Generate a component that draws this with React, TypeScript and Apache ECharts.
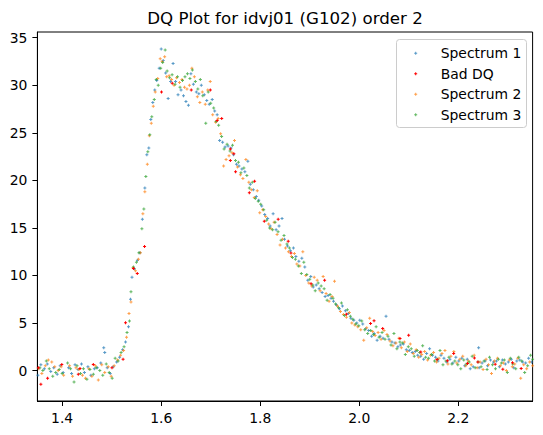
import React, { useEffect, useRef } from "react";
import * as echarts from "echarts";

const TITLE = "DQ Plot for idvj01 (G102) order 2";
const SERIES_NAMES = ["Spectrum 1", "Bad DQ", "Spectrum 2", "Spectrum 3"];
const COLORS = ["#1f77b4", "#ff0000", "#ff7f0e", "#2ca02c"];
const X_TICKS = [1.4, 1.6, 1.8, 2.0, 2.2];
const Y_TICKS = [0, 5, 10, 15, 20, 25, 30, 35];
const X_RANGE = [1.35, 2.35];
const Y_RANGE = [-3.2, 35.6];

const spectrum1 = [
  [1.351,-0.5],[1.357,0.6],[1.364,0.2],[1.370,0.7],[1.377,-0.1],[1.383,0.3],[1.390,-0.4],[1.396,0.5],[1.402,-0.2],
  [1.413,0.3],[1.419,-0.3],[1.426,0.6],[1.432,0.1],[1.439,0.7],[1.445,-0.2],[1.452,0.4],[1.458,-0.5],[1.465,0.2],[1.471,0.3],[1.478,0.8],[1.484,2.4],[1.486,1.9],[1.491,0.3],[1.497,-0.3],
  [1.503,0.4],[1.510,0.9],[1.516,1.4],[1.522,2.2],[1.528,3.0],[1.534,4.6],[1.538,7.5],[1.541,9.8],[1.546,10.7],[1.552,11.6],[1.557,12.4],[1.562,15.9],[1.567,19.2],[1.571,22.7],[1.575,23.4],[1.579,26.4],[1.583,28.2],[1.587,29.5],[1.591,30.5],[1.596,31.8],[1.600,33.8],[1.604,32.6],[1.609,31.3],[1.614,28.6],[1.619,30.4],[1.624,32.3],[1.629,30.4],[1.634,29.0],[1.640,29.5],[1.645,28.9],[1.650,28.3],[1.655,27.9],[1.660,31.2],[1.665,30.1],[1.671,29.3],[1.676,29.1],[1.681,30.0],[1.687,29.0],[1.692,28.4],[1.697,28.0],[1.703,28.5],[1.708,27.3],[1.713,26.9],[1.718,24.2],[1.724,24.0],[1.729,23.5],[1.735,23.6],[1.741,23.4],[1.746,22.7],[1.752,21.7],[1.757,21.5],[1.763,21.2],[1.769,20.9],[1.775,22.0],[1.780,19.6],[1.786,19.0],[1.792,18.3],[1.797,17.9],[1.803,17.3],[1.809,16.4],[1.815,16.0],[1.820,15.2],[1.826,16.5],[1.832,14.8],[1.838,15.2],[1.844,16.0],[1.849,13.8],[1.855,13.1],[1.861,12.6],[1.867,12.9],[1.872,12.0],[1.878,11.5],[1.884,11.8],[1.890,10.9],[1.896,9.5],[1.902,9.9],[1.907,8.8],[1.913,9.0],[1.919,8.6],[1.925,8.2],[1.931,7.8],[1.937,7.9],[1.943,7.6],[1.948,7.3],[1.954,6.9],[1.960,6.5],[1.966,6.8],[1.972,6.3],[1.978,6.0],[1.983,5.5],[1.989,5.3],[1.995,5.0],[2.001,5.3],[2.007,4.9],[2.013,4.4],[2.019,4.2],[2.025,3.6],[2.030,3.9],[2.036,3.2],[2.042,3.6],[2.048,3.4],[2.054,5.7],[2.060,3.3],[2.066,3.0],[2.072,2.9],[2.078,2.5],[2.083,2.7],[2.089,2.8],[2.095,2.2],[2.101,2.1],[2.107,1.9],[2.113,2.0],[2.118,1.6],[2.124,1.5],[2.130,1.2],[2.136,1.8],[2.142,2.3],[2.148,1.6],[2.154,1.4],[2.159,1.0],[2.165,1.6],[2.171,1.3],[2.177,0.9],[2.183,1.2],[2.189,0.8],[2.195,1.4],[2.201,1.0],[2.207,1.3],[2.213,0.5],[2.218,1.2],[2.224,0.2],[2.230,0.4],[2.241,2.4],[2.242,0.3],[2.248,0.8],[2.254,1.0],[2.259,0.5],[2.265,1.1],[2.271,0.9],[2.277,1.0],[2.283,0.4],[2.289,1.1],[2.295,0.7],[2.301,0.9],[2.307,1.2],[2.312,0.3],[2.318,1.0],[2.324,1.1],[2.330,0.9],[2.336,0.8],[2.342,1.3],[2.348,0.9],
];

const badDQ = [
  [1.352,0.3],[1.357,-1.45],[1.3706,-0.82],[1.3993,0.65],[1.4326,-0.4],[1.436,0.23],[1.4629,0.65],[1.5006,0.3],[1.523,1.18],[1.528,5.03],[1.544,10.74],[1.5517,10.2],[1.5664,13.05],
  [1.6006,29.3],[1.6223,30.2],[1.6607,29.5],[1.6992,29.5],[1.713,26.3],[1.7222,26.5],[1.7397,22.1],[1.7397,23.3],[1.7467,22.8],[1.7502,20.9],[1.778,18.7],[1.7886,19.9],[1.8082,15.7],[1.8362,15.9],[1.8565,13.6],[1.862,12.35],[1.9026,9.12],[1.93,9.5],[1.974,5.93],
  [2.0228,4.95],[2.0298,5.23],[2.0473,4.42],[2.0822,3.37],[2.0997,3.72],[2.1242,1.96],[2.157,1.16],[2.178,1.02],[2.1906,1.79],[2.2186,0.74],[2.2325,1.33],[2.2395,0.91],[2.2745,0.67],[2.2899,0.14],[2.3094,0.81],[2.3269,0.21],
];

const spectrum2 = [
  [1.353,0.2],[1.359,-0.3],[1.366,0.5],[1.372,1.1],[1.379,0.9],[1.385,0.4],[1.392,0.0],[1.398,0.4],[1.403,-0.5],
  [1.415,0.5],[1.421,-0.6],[1.428,0.3],[1.434,0.1],[1.441,-0.5],[1.447,-0.8],[1.454,0.2],[1.460,-0.6],[1.467,0.5],[1.473,-1.0],[1.480,0.6],[1.486,-0.2],[1.493,0.4],[1.499,-0.6],
  [1.505,0.5],[1.512,1.1],[1.518,1.6],[1.524,2.1],[1.530,3.5],[1.535,6.0],[1.539,7.2],[1.543,10.8],[1.548,10.5],[1.554,11.7],[1.558,12.4],[1.563,16.5],[1.567,18.8],[1.572,21.7],[1.576,24.7],[1.580,26.0],[1.584,27.8],[1.588,29.3],[1.593,30.7],[1.598,32.8],[1.602,32.5],[1.607,33.0],[1.611,30.9],[1.616,31.0],[1.621,30.6],[1.626,30.0],[1.631,30.8],[1.637,30.3],[1.642,30.6],[1.647,29.8],[1.652,29.6],[1.657,30.0],[1.662,31.8],[1.667,30.9],[1.673,28.8],[1.678,28.2],[1.683,29.3],[1.689,28.0],[1.694,29.5],[1.699,30.4],[1.704,26.9],[1.710,26.1],[1.715,26.5],[1.720,24.9],[1.726,21.5],[1.731,22.2],[1.737,22.6],[1.743,22.9],[1.748,24.2],[1.754,21.4],[1.760,20.6],[1.765,20.2],[1.771,22.2],[1.777,19.8],[1.782,19.0],[1.788,18.2],[1.794,18.9],[1.799,16.6],[1.805,16.9],[1.811,16.2],[1.817,15.4],[1.822,14.9],[1.828,15.6],[1.834,14.3],[1.840,13.2],[1.845,13.8],[1.851,12.9],[1.857,12.5],[1.863,12.0],[1.869,12.3],[1.874,11.2],[1.880,11.0],[1.886,12.5],[1.892,10.0],[1.898,9.2],[1.904,8.9],[1.909,9.8],[1.915,9.5],[1.921,8.4],[1.927,9.9],[1.933,8.1],[1.939,7.3],[1.945,7.8],[1.950,9.4],[1.956,6.8],[1.962,6.2],[1.968,5.9],[1.974,5.6],[1.980,6.1],[1.985,5.0],[1.991,4.8],[1.997,4.6],[2.003,4.3],[2.009,3.2],[2.015,4.5],[2.021,5.5],[2.027,4.1],[2.032,3.7],[2.038,4.0],[2.044,3.3],[2.050,4.2],[2.056,3.8],[2.062,3.1],[2.068,2.6],[2.074,2.9],[2.080,3.4],[2.085,2.4],[2.091,3.0],[2.097,2.0],[2.103,2.8],[2.109,1.8],[2.115,2.2],[2.120,1.4],[2.126,1.7],[2.132,2.0],[2.138,1.1],[2.144,1.6],[2.150,1.9],[2.156,0.9],[2.161,1.3],[2.167,1.8],[2.173,2.1],[2.179,0.7],[2.185,1.5],[2.191,2.0],[2.197,0.8],[2.203,1.2],[2.209,1.5],[2.215,0.5],[2.220,1.0],[2.226,0.6],[2.232,1.6],[2.238,0.3],[2.244,0.9],[2.250,0.1],[2.256,1.2],[2.261,0.6],[2.267,-0.3],[2.273,1.0],[2.279,1.3],[2.285,0.5],[2.291,0.8],[2.297,0.0],[2.303,1.1],[2.309,0.4],[2.314,0.7],[2.320,1.3],[2.326,-0.8],[2.332,0.6],[2.338,0.2],[2.344,0.9],[2.350,0.5],
];

const spectrum3 = [
  [1.355,0.3],[1.361,0.0],[1.368,1.0],[1.374,0.2],[1.381,-0.6],[1.387,-0.2],[1.394,0.1],[1.400,-0.3],
  [1.411,0.8],[1.417,0.2],[1.424,-1.2],[1.430,0.5],[1.437,-0.3],[1.443,0.2],[1.450,-0.9],[1.456,0.1],[1.463,-0.4],[1.469,0.3],[1.476,0.0],[1.482,-0.5],[1.489,0.7],[1.495,-0.2],[1.501,-0.8],
  [1.507,1.3],[1.513,1.0],[1.519,1.9],[1.525,2.5],[1.531,4.0],[1.536,5.2],[1.539,8.3],[1.544,10.9],[1.550,11.4],[1.555,12.4],[1.561,14.9],[1.565,17.0],[1.569,20.4],[1.573,23.0],[1.577,24.8],[1.581,26.7],[1.586,28.5],[1.590,30.6],[1.594,30.0],[1.599,31.8],[1.603,32.4],[1.608,33.7],[1.612,31.5],[1.617,30.8],[1.622,31.1],[1.628,30.1],[1.633,30.9],[1.638,29.8],[1.643,30.5],[1.648,30.9],[1.653,31.2],[1.658,30.7],[1.663,31.6],[1.669,30.4],[1.674,29.6],[1.679,30.6],[1.684,28.9],[1.690,26.0],[1.695,29.3],[1.700,28.1],[1.706,27.6],[1.711,26.2],[1.716,25.8],[1.722,24.6],[1.727,23.3],[1.733,23.8],[1.739,23.1],[1.744,23.7],[1.750,22.1],[1.756,21.9],[1.761,20.8],[1.767,21.3],[1.773,20.5],[1.778,19.2],[1.784,19.8],[1.790,18.1],[1.796,17.8],[1.801,17.5],[1.807,16.9],[1.813,15.8],[1.819,15.0],[1.825,14.8],[1.830,15.6],[1.836,14.6],[1.842,13.7],[1.848,14.2],[1.854,13.3],[1.859,12.9],[1.865,11.9],[1.871,11.7],[1.877,11.0],[1.883,10.2],[1.888,11.4],[1.894,10.1],[1.900,9.6],[1.906,9.0],[1.911,8.4],[1.917,9.2],[1.923,8.9],[1.929,8.6],[1.935,7.4],[1.941,8.0],[1.947,7.6],[1.952,7.0],[1.958,6.6],[1.964,7.1],[1.970,5.8],[1.976,6.4],[1.982,5.7],[1.987,5.4],[1.993,4.9],[1.999,4.7],[2.005,5.2],[2.011,4.3],[2.017,3.9],[2.023,4.2],[2.029,3.8],[2.034,4.6],[2.040,3.5],[2.046,4.0],[2.052,3.3],[2.058,3.6],[2.064,2.7],[2.070,3.9],[2.076,2.3],[2.082,3.0],[2.087,2.9],[2.093,1.7],[2.099,2.5],[2.105,2.3],[2.111,1.5],[2.117,2.1],[2.122,1.9],[2.128,2.6],[2.134,1.4],[2.140,1.3],[2.146,1.7],[2.152,1.0],[2.158,1.2],[2.163,2.1],[2.169,0.6],[2.175,1.0],[2.181,1.4],[2.187,0.7],[2.193,1.0],[2.199,0.6],[2.205,0.2],[2.211,1.1],[2.216,0.7],[2.222,0.9],[2.228,1.5],[2.234,0.3],[2.240,0.9],[2.246,0.4],[2.252,1.0],[2.258,0.1],[2.263,1.4],[2.269,0.6],[2.275,0.2],[2.281,1.2],[2.287,0.8],[2.293,1.1],[2.299,-0.2],[2.305,1.3],[2.310,0.7],[2.316,0.2],[2.322,1.4],[2.328,1.0],[2.334,-0.2],[2.340,0.5],[2.346,1.6],[2.350,1.2],
];

const PLUS = "path://M1,0H2V1H3V2H2V3H1V2H0V1H1Z";
const LEGEND_ICON = "path://M0,0M40,14M19.5,5.5H20.5V6.5H21.5V7.5H20.5V8.5H19.5V7.5H18.5V6.5H19.5Z";
const FONT = "DejaVu Sans";

export default function App() {
  const ref = useRef<HTMLDivElement>(null);
  useEffect(() => {
    document.body.style.margin = "0";
    const chart = echarts.init(ref.current!, null, { renderer: "svg" });
    const datasets = [spectrum1, badDQ, spectrum2, spectrum3];
    chart.setOption({
      animation: false,
      backgroundColor: "#ffffff",
      title: {
        text: TITLE,
        left: 285,
        top: 10,
        padding: 0,
        textAlign: "center",
        textStyle: { fontFamily: FONT, fontSize: 16.67, fontWeight: "normal", color: "#000" },
      },
      graphic: [
        {
          type: "rect",
          z: 5,
          shape: { x: 396.5, y: 39.5, width: 130, height: 88, r: 3 },
          style: { fill: "rgba(255,255,255,0.8)", stroke: "#cccccc", lineWidth: 1 },
        },
      ],
      legend: {
        z: 6,
        orient: "vertical",
        left: 395.7,
        top: 46.3,
        padding: 0,
        itemWidth: 40,
        itemHeight: 14,
        itemGap: 6.5,
        data: SERIES_NAMES.map((n) => ({ name: n, icon: LEGEND_ICON })),
        textStyle: { fontFamily: FONT, fontSize: 13.9, color: "#000", lineHeight: 14 },
      },
      grid: {
        left: 37.4,
        top: 32,
        width: 495.2,
        height: 369,
        show: true,
        borderColor: "#000",
        borderWidth: 1,
        containLabel: false,
      },
      xAxis: {
        type: "value",
        min: X_RANGE[0],
        max: X_RANGE[1],
        splitLine: { show: false },
        axisLine: { show: true, onZero: false, lineStyle: { color: "#000", width: 1 } },
        axisTick: { show: true, length: 5, lineStyle: { color: "#000" }, customValues: X_TICKS },
        axisLabel: {
          customValues: X_TICKS,
          margin: 10,
          color: "#000",
          fontFamily: FONT,
          fontSize: 13.9,
          formatter: (v: number) => v.toFixed(1),
        },
      },
      yAxis: {
        type: "value",
        min: Y_RANGE[0],
        max: Y_RANGE[1],
        splitLine: { show: false },
        axisLine: { show: true, onZero: false, lineStyle: { color: "#000", width: 1 } },
        axisTick: { show: true, length: 5, lineStyle: { color: "#000" }, customValues: Y_TICKS },
        axisLabel: {
          customValues: Y_TICKS,
          margin: 10,
          color: "#000",
          fontFamily: FONT,
          fontSize: 13.9,
        },
      },
      series: SERIES_NAMES.map((name, i) => ({
        name,
        type: "scatter",
        data: datasets[i],
        symbol: PLUS,
        symbolSize: 3,
        z: i === 1 ? 3 : 2,
        itemStyle: { color: COLORS[i], opacity: i === 1 ? 1 : 0.75 },
      })),
    });
    return () => chart.dispose();
  }, []);
  return <div ref={ref} style={{ width: 543, height: 435 }} />;
}
